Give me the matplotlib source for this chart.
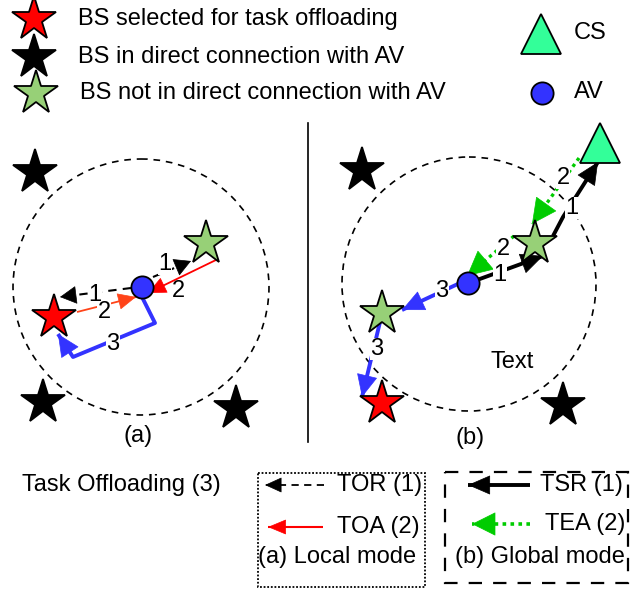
import matplotlib
matplotlib.use('Agg')
import matplotlib.pyplot as plt
from matplotlib.patches import Circle, Rectangle, FancyArrowPatch

plt.rcParams['font.family'] = ['Liberation Sans', 'DejaVu Sans']

# ---------------- data (pixel layout of the diagram) ----------------
W, H = 641, 591
FS = 17

# colours
RED = '#ff0000'
BLACK = '#000000'
LGREEN = '#97d077'
MINT = '#33ff99'
BLUE = '#3333ff'
ORANGE = '#ff4419'
GREEN = '#00cc00'

# top legend
legend_labels = ["BS selected for task offloading",
                 "BS in direct connection with AV",
                 "BS not in direct connection with AV"]
legend_colors = [RED, BLACK, LGREEN]
legend_star_x = [34, 34, 36]
legend_y = [19, 57, 93]
legend_text_x = [78, 78, 80]
cs_legend = (541, 34)
av_legend = (542, 93)
cs_av_text = ["CS", "AV"]
cs_av_text_x = 574
cs_av_text_y = [33, 92]

# panel (a) nodes
a_circle = (141, 287, 128)
a_black_stars = [(35, 172), (43, 402), (236, 408)]
a_green_star = (206, 243)
a_red_star = (54, 317)
a_av = (142, 287)

# panel (a) links and their number labels
a_tor_paths = [[(153, 277), (191, 261)], [(131, 288), (60, 297)]]
a_tor_labels = [(165, 264), (95, 295)]
a_toa_paths = [[(218, 259), (148, 293)], [(77, 312), (136, 297)]]
a_toa_colors = [RED, ORANGE]
a_toa_labels = [(178, 291), (104, 312)]
a_task_path = [(142, 297), (155, 323), (73, 357), (58, 334)]
a_task_label = (113, 344)
a_caption = (138, 436)

# panel (b) nodes
b_circle = (469, 284, 127)
b_black_stars = [(362, 170), (563, 405)]
b_green_stars = [(535, 243), (382, 313)]
b_red_star = (382, 403)
b_av = (468, 283)
b_cs = (600, 143)
divider_x = 308
divider_y = (123, 442)

# panel (b) links and their number labels
b_tsr_paths = [[(477, 280), (543, 256)], [(553, 236), (563, 217), (598, 162)]]
b_tsr_labels = [(500, 275), (572, 208)]
b_tea_paths = [[(579, 158), (532, 224)], [(514, 236), (467, 276)]]
b_tea_labels = [(563, 178), (503, 249)]
b_task_paths = [[(460, 283), (402, 310)], [(380, 322), (362, 397)]]
b_task_labels = [(442, 291), (377, 349)]
b_text = (512, 362)
b_caption = (470, 438)

# bottom legend
task_text = "Task Offloading (3)"
task_text_pos = (22, 485)
local_items = ["TOR (1)", "TOA (2)"]
global_items = ["TSR (1)", "TEA (2)"]
mode_labels = ["(a) Local mode", "(b) Global mode"]
local_box = (258, 473, 167, 114)
global_box = (445, 472, 183, 111)
local_arrows = [[(324, 485), (265, 485)], [(323, 527), (268, 527)]]
local_text_pos = [(337, 485), (337, 527)]
local_mode_pos = (258, 557)
global_arrows = [[(530, 485), (468, 485)], [(530, 524), (472, 524)]]
global_text_pos = [(540, 485), (545, 524)]
global_mode_pos = (455, 557)

# ---------------- figure ----------------
fig = plt.figure(figsize=(W / 100, H / 100), dpi=100)
ax = fig.add_axes([0, 0, 1, 1])
ax.set_xlim(0, W)
ax.set_ylim(H, 0)
ax.axis('off')

STAR_MS = 33
WHITE_BOX = dict(boxstyle='square,pad=0.02', fc='white', ec='none')


def star(p, color, ms=STAR_MS, z=5):
    ax.plot(p[0], p[1], marker='*', ms=ms, mfc=color, mec='black', mew=1.3,
            linestyle='none', zorder=z)


def av(p, z=6):
    ax.plot(p[0], p[1], marker='o', ms=16, mfc=BLUE, mec='black', mew=1.3,
            linestyle='none', zorder=z)


def cs(p, z=6):
    ax.plot(p[0], p[1], marker='^', ms=29, mfc=MINT, mec='black', mew=1.3,
            linestyle='none', zorder=z)


def head(p0, p1, color, hl=9, hw=6, z=4):
    a = FancyArrowPatch(p0, p1, arrowstyle=f'-|>,head_length={hl},head_width={hw}',
                        mutation_scale=1, color=color, lw=0.5,
                        shrinkA=0, shrinkB=0, zorder=z)
    ax.add_patch(a)


def arrow(pts, color, lw, ls='-', hl=9, hw=6, z=3):
    xs = [p[0] for p in pts]
    ys = [p[1] for p in pts]
    ax.plot(xs, ys, color=color, lw=lw, linestyle=ls, zorder=z,
            solid_capstyle='butt', dash_capstyle='butt')
    p0, p1 = pts[-2], pts[-1]
    dx, dy = p1[0] - p0[0], p1[1] - p0[1]
    L = (dx * dx + dy * dy) ** 0.5
    q = (p1[0] - dx / L * 3, p1[1] - dy / L * 3)
    head(q, p1, color, hl, hw, z + 1)


def label(p, s, bg=True):
    kw = {'bbox': WHITE_BOX} if bg else {}
    ax.text(p[0], p[1], s, fontsize=FS, ha='center', va='center', zorder=4.5, **kw)


def dashed_circle(c):
    ax.add_patch(Circle(c[:2], c[2], fill=False, ec='black', lw=1.2,
                        linestyle=(0, (4, 3.5)), zorder=1))


# ---------------- top legend ----------------
for x, y, c, t, tx in zip(legend_star_x, legend_y, legend_colors, legend_labels, legend_text_x):
    star((x, y), c)
    ax.text(tx, y, t, fontsize=FS, ha='left', va='center')
cs(cs_legend)
av(av_legend)
for t, y in zip(cs_av_text, cs_av_text_y):
    ax.text(cs_av_text_x, y, t, fontsize=FS, ha='left', va='center')

# ---------------- panel (a) ----------------
dashed_circle(a_circle)
for p in a_black_stars:
    star(p, BLACK)
star(a_green_star, LGREEN)
star(a_red_star, RED)
av(a_av)

for path, lp in zip(a_tor_paths, a_tor_labels):
    arrow(path, BLACK, 1.5, (0, (4, 3)), hl=11, hw=6)
    label(lp, "1")
for path, col, lp, bg in zip(a_toa_paths, a_toa_colors, a_toa_labels, [False, True]):
    arrow(path, col, 1.3, hl=12, hw=5.5)
    label(lp, "2", bg=bg)
arrow(a_task_path, BLUE, 2.8, hl=15, hw=7)
label(a_task_label, "3")
ax.text(a_caption[0], a_caption[1], "(a)", fontsize=FS, ha='center', va='center')

# ---------------- panel (b) ----------------
ax.plot([divider_x, divider_x], divider_y, color='black', lw=1.2)
dashed_circle(b_circle)
for p in b_black_stars:
    star(p, BLACK)
for p in b_green_stars:
    star(p, LGREEN)
star(b_red_star, RED)
av(b_av)
cs(b_cs)

for path, lp in zip(b_tsr_paths, b_tsr_labels):
    arrow(path, BLACK, 2.8, hl=15, hw=7)
    label(lp, "1")
for path, lp in zip(b_tea_paths, b_tea_labels):
    arrow(path, GREEN, 2.4, (0, (1, 1.2)), hl=17, hw=8.5)
    label(lp, "2")
for path, lp in zip(b_task_paths, b_task_labels):
    arrow(path, BLUE, 2.8, hl=15, hw=7)
    label(lp, "3")
ax.text(b_text[0], b_text[1], "Text", fontsize=FS, ha='center', va='center')
ax.text(b_caption[0], b_caption[1], "(b)", fontsize=FS, ha='center', va='center')

# ---------------- bottom legend ----------------
ax.text(task_text_pos[0], task_text_pos[1], task_text, fontsize=FS, ha='left', va='center')

ax.add_patch(Rectangle(local_box[:2], local_box[2], local_box[3], fill=False,
                       ec='black', lw=1.3, linestyle=(0, (1, 1))))
arrow(local_arrows[0], BLACK, 1.3, (0, (4, 3)), hl=11, hw=5)
arrow(local_arrows[1], RED, 1.5, hl=12, hw=5)
for t, p in zip(local_items, local_text_pos):
    ax.text(p[0], p[1], t, fontsize=FS, ha='left', va='center')
ax.text(local_mode_pos[0], local_mode_pos[1], mode_labels[0], fontsize=FS,
        ha='left', va='center')

ax.add_patch(Rectangle(global_box[:2], global_box[2], global_box[3], fill=False,
                       ec='black', lw=1.6, linestyle=(0, (6, 5))))
arrow(global_arrows[0], BLACK, 2.8, hl=15, hw=6.5)
arrow(global_arrows[1], GREEN, 2.6, (0, (1, 1.2)), hl=16, hw=8)
for t, p in zip(global_items, global_text_pos):
    ax.text(p[0], p[1], t, fontsize=FS, ha='left', va='center', bbox=WHITE_BOX)
ax.text(global_mode_pos[0], global_mode_pos[1], mode_labels[1], fontsize=FS,
        ha='left', va='center', bbox=WHITE_BOX)

fig.savefig('out.png', dpi=100)
